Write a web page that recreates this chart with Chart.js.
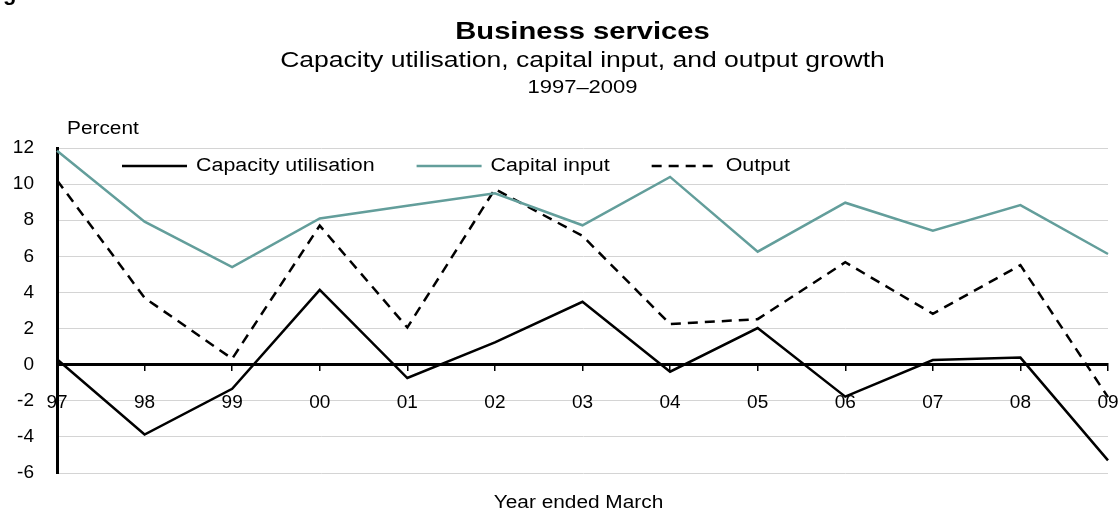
<!DOCTYPE html>
<html>
<head>
<meta charset="utf-8">
<script src="https://cdn.jsdelivr.net/npm/chart.js@4.4.1/dist/chart.umd.min.js"></script>
<style>
  html, body { margin: 0; padding: 0; background: #ffffff; }
  #wrap { width: 1120px; height: 511px; }
</style>
</head>
<body>
<div id="wrap"><canvas id="chart" width="1120" height="511"></canvas></div>
<script>
// Year ended March, 1997–2009
const years = ['97', '98', '99', '00', '01', '02', '03', '04', '05', '06', '07', '08', '09'];

// Annual growth, percent
const capacityUtilisation = [0.3, -3.87, -1.34, 4.14, -0.74, 1.23, 3.48, -0.39, 2.03, -1.77, 0.26, 0.39, -5.3];
const capitalInput        = [11.85, 7.92, 5.4, 8.1, 8.8, 9.49, 7.72, 10.4, 6.26, 8.97, 7.42, 8.84, 6.13];
const output              = [10.22, 3.7, 0.33, 7.7, 2.06, 9.72, 7.13, 2.25, 2.52, 5.67, 2.82, 5.51, -1.8];

// Value axis range
const yMin = -6;
const yMax = 12;
const yStep = 2;

const seriesNames = ['Capacity utilisation', 'Capital input', 'Output'];

const titleText = 'Business services';
const subtitleText = 'Capacity utilisation, capital input, and output growth';
const periodText = '1997\u20132009';
const yAxisTitle = 'Percent';
const xAxisTitle = 'Year ended March';

const FONT = '"Liberation Sans", Arial, Helvetica, sans-serif';
const TEAL = '#639e9b';
const WIDE = 1.19;   // horizontal stretch of the caption lettering

// draw text widened horizontally around its anchor
function wideText(ctx, text, x, y, align) {
  ctx.save();
  ctx.translate(x, y);
  ctx.scale(WIDE, 1);
  ctx.textAlign = align;
  ctx.fillText(text, 0, 0);
  ctx.restore();
  return ctx.measureText(text).width * WIDE;
}

// Titles, axis captions and the in-plot legend
const annotations = {
  id: 'annotations',
  afterDraw(chart) {
    const { ctx, chartArea } = chart;
    const cx = (chartArea.left + chartArea.right) / 2;
    ctx.save();
    ctx.fillStyle = '#000';

    // figure caption running off the top edge
    ctx.textBaseline = 'alphabetic';
    ctx.font = 'bold 22px ' + FONT;
    ctx.textAlign = 'left';
    ctx.fillText('Figure', -16.5, 0);

    ctx.textBaseline = 'middle';
    ctx.font = 'bold 24.5px ' + FONT;
    wideText(ctx, titleText, cx, 32, 'center');
    ctx.font = '22.3px ' + FONT;
    wideText(ctx, subtitleText, cx, 61, 'center');
    ctx.font = '18.5px ' + FONT;
    wideText(ctx, periodText, cx, 88, 'center');

    ctx.font = '17.5px ' + FONT;
    wideText(ctx, xAxisTitle, cx - 4, 503, 'center');
    wideText(ctx, yAxisTitle, chartArea.left + 10, 129, 'left');

    // legend: line sample followed by the series name
    ctx.font = '18px ' + FONT;
    const legendY = 166;
    const sampleW = 65;
    let x = chartArea.left + 65;
    chart.data.datasets.forEach((ds) => {
      ctx.save();
      ctx.strokeStyle = ds.borderColor;
      ctx.lineWidth = ds.borderWidth;
      ctx.setLineDash(ds.borderDash || []);
      ctx.beginPath();
      ctx.moveTo(x, legendY);
      ctx.lineTo(x + sampleW, legendY);
      ctx.stroke();
      ctx.restore();
      x += sampleW + 9;
      x += wideText(ctx, ds.label, x, legendY, 'left') + 42;
    });
    ctx.restore();
  }
};

const tickFont = { family: FONT, size: 19 };

new Chart(document.getElementById('chart'), {
  type: 'line',
  data: {
    labels: years,
    datasets: [
      {
        label: seriesNames[0],
        data: capacityUtilisation,
        borderColor: '#000000',
        borderWidth: 2.5,
        pointRadius: 0,
        tension: 0
      },
      {
        label: seriesNames[1],
        data: capitalInput,
        borderColor: TEAL,
        borderWidth: 2.5,
        pointRadius: 0,
        tension: 0
      },
      {
        label: seriesNames[2],
        data: output,
        borderColor: '#000000',
        borderWidth: 2.5,
        borderDash: [10, 7],
        pointRadius: 0,
        tension: 0
      }
    ]
  },
  options: {
    responsive: false,
    animation: false,
    devicePixelRatio: 1,
    layout: { autoPadding: false, padding: { left: 0, top: 148, right: 12, bottom: 38 } },
    plugins: {
      legend: { display: false },
      title: { display: false },
      tooltip: { enabled: false }
    },
    scales: {
      x: {
        type: 'category',
        position: { y: 0 },
        offset: false,
        afterFit(scale) {
          // the end labels may overhang the plot edges
          scale.paddingLeft = 0;
          scale.paddingRight = 0;
        },
        grid: {
          drawOnChartArea: false,
          drawTicks: true,
          tickLength: 5,
          color: '#000000',
          lineWidth: 1.5
        },
        border: { display: true, color: '#000000', width: 3 },
        ticks: {
          color: '#000000',
          font: tickFont,
          padding: 22,
          maxRotation: 0,
          autoSkip: false
        }
      },
      y: {
        min: yMin,
        max: yMax,
        afterFit(scale) { scale.width = 57; },
        grid: {
          color: '#d4d4d4',
          lineWidth: 1,
          drawTicks: false
        },
        border: { display: true, color: '#000000', width: 3 },
        ticks: {
          stepSize: yStep,
          color: '#000000',
          font: tickFont,
          padding: 23
        }
      }
    }
  },
  plugins: [annotations]
});
</script>
</body>
</html>
